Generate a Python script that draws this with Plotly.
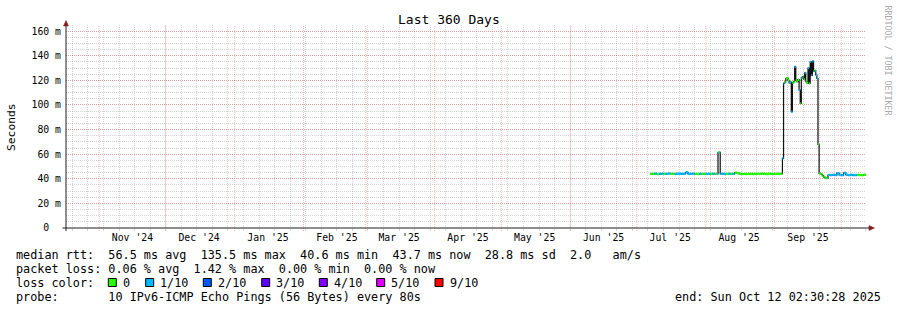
import plotly.graph_objects as go
import pandas as pd

# ---------------- data ----------------
START = "2024-10-17 02:30:28"
END = "2025-10-12 02:30:28"

dates = [
    "2025-07-07", "2025-07-08", "2025-07-09", "2025-07-10", "2025-07-11", "2025-07-12",
    "2025-07-13", "2025-07-14", "2025-07-15", "2025-07-16", "2025-07-17", "2025-07-18",
    "2025-07-19", "2025-07-20", "2025-07-21", "2025-07-22", "2025-07-23", "2025-07-24",
    "2025-07-25", "2025-07-26", "2025-07-27", "2025-07-28", "2025-07-29", "2025-07-30",
    "2025-07-31", "2025-08-01", "2025-08-02", "2025-08-03", "2025-08-04", "2025-08-05",
    "2025-08-06 00:00", "2025-08-06 12:00", "2025-08-07 00:00", "2025-08-07 12:00",
    "2025-08-08", "2025-08-09", "2025-08-10", "2025-08-11", "2025-08-12", "2025-08-13",
    "2025-08-14", "2025-08-15", "2025-08-16", "2025-08-17", "2025-08-18", "2025-08-19",
    "2025-08-20", "2025-08-21", "2025-08-22", "2025-08-23", "2025-08-24", "2025-08-25",
    "2025-08-26", "2025-08-27", "2025-08-28", "2025-08-29", "2025-08-30", "2025-08-31",
    "2025-09-01", "2025-09-02", "2025-09-03",
    "2025-09-04 00:00", "2025-09-04 12:00", "2025-09-05 00:00", "2025-09-05 12:00",
    "2025-09-06 00:00", "2025-09-06 12:00", "2025-09-07 00:00", "2025-09-07 12:00",
    "2025-09-08 00:00", "2025-09-08 12:00", "2025-09-09 00:00", "2025-09-09 12:00",
    "2025-09-10 00:00", "2025-09-10 12:00", "2025-09-11 00:00", "2025-09-11 12:00",
    "2025-09-12 00:00", "2025-09-12 12:00", "2025-09-13 00:00", "2025-09-13 12:00",
    "2025-09-14 00:00", "2025-09-14 12:00", "2025-09-15 00:00", "2025-09-15 12:00",
    "2025-09-16 00:00", "2025-09-16 12:00", "2025-09-17 00:00", "2025-09-17 12:00",
    "2025-09-18 00:00", "2025-09-18 12:00", "2025-09-19 00:00", "2025-09-19 12:00",
    "2025-09-20 00:00", "2025-09-20 12:00", "2025-09-21 00:00", "2025-09-21 12:00",
    "2025-09-22 00:00", "2025-09-22 12:00", "2025-09-23 00:00", "2025-09-23 12:00",
    "2025-09-24 00:00", "2025-09-24 12:00", "2025-09-25 00:00", "2025-09-25 12:00",
    "2025-09-26", "2025-09-27", "2025-09-28", "2025-09-29", "2025-09-30", "2025-10-01",
    "2025-10-02", "2025-10-03", "2025-10-04", "2025-10-05", "2025-10-06", "2025-10-07",
    "2025-10-08", "2025-10-09", "2025-10-10", "2025-10-11", "2025-10-12 00:00",
]

median_ms = [
    44.0, 44.0, 44.2, 43.8, 44.0, 44.2,
    44.0, 44.0, 44.3, 44.0, 44.0, 44.0,
    44.1, 44.2, 44.0, 44.1, 45.3, 44.0,
    44.0, 44.2, 44.0, 43.9, 44.0, 44.0,
    43.9, 44.0, 44.1, 44.0, 44.1, 44.0,
    44.0, 61.2, 61.5, 44.0,
    44.1, 44.0, 44.0, 44.1, 44.0, 44.0,
    45.0, 44.6, 44.0, 43.9, 44.0, 43.9,
    44.0, 44.0, 43.9, 44.0, 44.1, 44.0,
    44.3, 44.0, 43.9, 44.0, 44.0, 43.9,
    44.0, 44.1, 44.0,
    44.2, 56.6, 117.6, 118.5,
    121.5, 122.0, 120.0, 118.0,
    118.5, 94.5, 118.0, 119.0,
    131.0, 120.0, 119.0, 120.5,
    112.0, 101.3, 122.0, 123.0,
    121.0, 126.0, 119.0, 118.0,
    130.0, 117.5, 135.0, 124.0,
    135.5, 127.5, 128.0, 124.5,
    121.5, 68.0, 44.4, 44.0,
    43.5, 42.5, 41.3, 41.0,
    40.6, 40.5, 43.0, 43.2,
    43.0, 43.2, 43.0, 44.6, 43.2, 43.0,
    44.8, 43.3, 43.0, 43.2, 43.0, 43.0,
    43.2, 43.0, 43.0, 43.2, 43.7,
]

loss_tenths = [
    0, 0, 1, 0, 1, 1,
    0, 1, 1, 0, 0, 1,
    1, 1, 1, 1, 1, 1,
    1, 1, 0, 0, 1, 0,
    0, 1, 1, 0, 1, 0,
    1, 1, 0, 1,
    1, 1, 0, 1, 0, 1,
    0, 0, 0, 0, 0, 0,
    0, 0, 0, 0, 0, 0,
    0, 0, 0, 0, 0, 0,
    0, 0, 0,
    0, 1, 1, 0,
    0, 0, 0, 1,
    1, 1, 0, 0,
    1, 0, 0, 0,
    1, 0, 1, 0,
    0, 1, 0, 0,
    1, 0, 1, 1,
    1, 1, 0, 1,
    1, 0, 0, 0,
    0, 0, 0, 0,
    0, 1, 1, 1,
    1, 1, 1, 1, 1, 1,
    1, 1, 1, 1, 1, 1,
    0, 0, 0, 0, 0,
]

month_starts = ["2024-11-01", "2024-12-01", "2025-01-01", "2025-02-01", "2025-03-01",
                "2025-04-01", "2025-05-01", "2025-06-01", "2025-07-01", "2025-08-01",
                "2025-09-01", "2025-10-01"]
month_label_at = ["2024-11-16", "2024-12-16", "2025-01-16", "2025-02-16", "2025-03-16",
                  "2025-04-16", "2025-05-16", "2025-06-16", "2025-07-16", "2025-08-16",
                  "2025-09-16"]
month_labels = ["Nov '24", "Dec '24", "Jan '25", "Feb '25", "Mar '25", "Apr '25",
                "May '25", "Jun '25", "Jul '25", "Aug '25", "Sep '25"]
week_lines = [d.strftime("%Y-%m-%d") for d in pd.date_range("2024-10-20", "2025-10-12", freq="7D")]

y_ticks = [0, 20, 40, 60, 80, 100, 120, 140, 160]
y_ticktext = ["0\u00a0\u00a0", "20 m", "40 m", "60 m", "80 m", "100 m", "120 m", "140 m", "160 m"]

loss_levels = [0, 1, 2, 3, 4, 5, 9]
loss_labels = ["0", "1/10", "2/10", "3/10", "4/10", "5/10", "9/10"]
loss_colors = ["#26ff00", "#00b8ff", "#0059ff", "#5e00ff", "#7e00ff", "#dd00ff", "#ff0000"]

# ---------------- geometry ----------------
W, H = 897, 310
L, R, T, B = 66, 866, 25, 228
YMAX = (B - T) / 1.2306
MONO = "DejaVu Sans Mono"
GRID = "rgba(150,150,150,0.42)"
MGRID = "rgba(230,70,70,0.38)"


def px(x):
    return (x - L) / (R - L)


def py(y):
    return (B - y) / (B - T)


def nb(s):
    return s.replace(" ", "\u00a0")


fig = go.Figure()

# black median line (step)
fig.add_trace(go.Scatter(x=dates, y=median_ms, mode="lines", line=dict(color="#111111", width=1.2, shape="hv"),
                         hoverinfo="skip", showlegend=False))

# coloured loss segments
ends = dates[1:] + [END]
for lvl, col in zip(loss_levels, loss_colors):
    xs, ys = [], []
    for d, e, v, l in zip(dates, ends, median_ms, loss_tenths):
        if l == lvl:
            xs += [d, e, None]
            ys += [v, v, None]
    if xs:
        fig.add_trace(go.Scatter(x=xs, y=ys, mode="lines", line=dict(color=col, width=2.4),
                                 hoverinfo="skip", showlegend=False))

# month grid lines (major, red dotted)
for m in month_starts:
    fig.add_shape(type="line", xref="x", yref="paper", x0=m, x1=m, y0=-3 / (B - T), y1=1,
                  line=dict(color=MGRID, width=1, dash="1px,1px"), layer="below")

# axis lines
fig.add_shape(type="line", xref="paper", yref="paper", x0=px(62.5), x1=px(870), y0=0, y1=0,
              line=dict(color="#1f1f1f", width=1))
fig.add_shape(type="line", xref="paper", yref="paper", x0=0, x1=0, y0=py(231), y1=py(24),
              line=dict(color="#1f1f1f", width=1))
# arrows
ARROW = "#801f1f"
fig.add_shape(type="path", xref="paper", yref="paper",
              path=f"M {px(63.5)},{py(26)} L {px(66)},{py(20.5)} L {px(68.5)},{py(26)} Z",
              fillcolor=ARROW, line=dict(color=ARROW, width=0.5))
fig.add_shape(type="path", xref="paper", yref="paper",
              path=f"M {px(869)},{py(225.5)} L {px(874.5)},{py(228)} L {px(869)},{py(230.5)} Z",
              fillcolor=ARROW, line=dict(color=ARROW, width=0.5))


def text(x, y, s, size=11.8, anchor="left", color="black", angle=0):
    fig.add_annotation(x=px(x), y=py(y), xref="paper", yref="paper", text=nb(s), showarrow=False,
                       xanchor=anchor, yanchor="middle", textangle=angle, borderpad=0, borderwidth=0,
                       font=dict(family=MONO, size=size, color=color))


text(448.5, 19, "Last 360 Days", size=13, anchor="center")
text(11, 127, "Seconds", size=11.3, anchor="center", angle=-90)
text(887.5, 60, "RRDTOOL / TOBI OETIKER", size=8.3, anchor="center", color="#a8a8a8", angle=90)

text(16, 254.5, "median rtt:  56.5 ms avg  135.5 ms max  40.6 ms min  43.7 ms now  28.8 ms sd  2.0   am/s")
text(16, 268.5, "packet loss: 0.06 % avg  1.42 % max  0.00 % min  0.00 % now")
text(16, 282.5, "loss color:")
text(16, 296.5, "probe:       10 IPv6-ICMP Echo Pings (56 Bytes) every 80s")
text(880.5, 296.5, "end: Sun Oct 12 02:30:28 2025", anchor="right")

box_left = [108.3, 145.7, 203.3, 261.7, 319.3, 376.7, 435.0]
for bx, lab, col in zip(box_left, loss_labels, loss_colors):
    fig.add_shape(type="rect", xref="paper", yref="paper", x0=px(bx), x1=px(bx + 8),
                  y0=py(286.5), y1=py(278.5), fillcolor=col, line=dict(color="black", width=1))
    text(bx + 14.7, 282.5, lab)

fig.update_layout(
    width=W, height=H,
    margin=dict(l=L, r=W - R, t=T, b=H - B, pad=0),
    paper_bgcolor="white", plot_bgcolor="white",
    showlegend=False,
    xaxis=dict(
        type="date", range=[START, END],
        tickmode="array", tickvals=month_label_at, ticktext=month_labels,
        ticks="", showgrid=False, zeroline=False, showline=False,
        tickfont=dict(family=MONO, size=9.8, color="black"),
        ticklabelstandoff=2,
        minor=dict(tickmode="array", tickvals=week_lines, showgrid=True, gridcolor=GRID,
                   griddash="1px,1px", gridwidth=1, ticks="outside", ticklen=2, tickcolor=GRID),
    ),
    yaxis=dict(
        range=[0, YMAX], tickmode="array", tickvals=y_ticks, ticktext=y_ticktext,
        ticks="", showgrid=True, gridcolor=MGRID, griddash="1px,1px", gridwidth=1,
        zeroline=False, showline=False,
        tickfont=dict(family=MONO, size=9.8, color="black"),
        ticklabelstandoff=4,
        minor=dict(dtick=5, tick0=0, showgrid=True, gridcolor=GRID, griddash="1px,1px", gridwidth=1),
    ),
)

fig.write_html("out.html")
